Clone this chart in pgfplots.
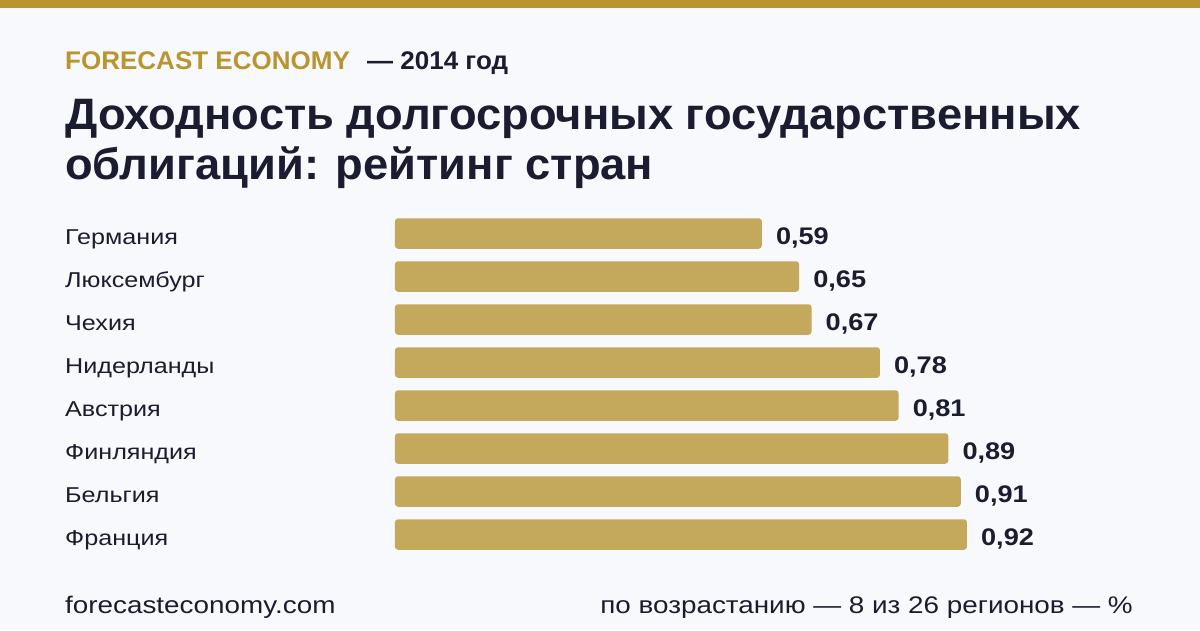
\documentclass[border=0pt]{standalone}
\usepackage{fontspec}
\setmainfont{Liberation Sans}
\newfontfamily\titlefont[FakeStretch=1.03]{Liberation Sans}
\newfontfamily\headfont[FakeStretch=1.02]{Liberation Sans}
\newfontfamily\labelfont[FakeStretch=1.17]{Liberation Sans}
\newfontfamily\valuefont[FakeStretch=1.13]{Liberation Sans}
\newfontfamily\footfont[FakeStretch=1.16]{Liberation Sans}
\usepackage{pgfplots}
\pgfplotsset{compat=1.18}
\definecolor{bgcol}{HTML}{F8F9FD}
\definecolor{goldcol}{HTML}{B8952F}
\definecolor{barcol}{HTML}{C4A85C}
\definecolor{darkcol}{HTML}{1C1C30}
\newcommand{\fs}[1]{\fontsize{#1}{#1}\selectfont}
\begin{document}
\begin{tikzpicture}[x=1pt,y=1pt]
\fill[bgcol] (0,0) rectangle (1200,630);
\fill[goldcol] (0,622) rectangle (1200,630);
\node[anchor=base west,inner sep=0,text=goldcol,font=\headfont\bfseries\fs{25.5}] at (65,560) {FORECAST ECONOMY};
\node[anchor=base west,inner sep=0,text=darkcol,font=\headfont\bfseries\fs{25.5}] at (367,560) {— 2014 год};
\node[anchor=base west,inner sep=0,text=darkcol,font=\titlefont\bfseries\fs{44}] at (65,500) {Доходность долгосрочных государственных};
\node[anchor=base west,inner sep=0,text=darkcol,font=\titlefont\bfseries\fs{44}] at (65,450) {облигаций: рейтинг стран};
\node[anchor=base west,inner sep=0,text=darkcol,font=\footfont\fs{24}] at (65,17) {forecasteconomy.com};
\node[anchor=base east,inner sep=0,text=darkcol,font=\footfont\fs{24}] at (1133,17) {по возрастанию — 8 из 26 регионов — \%};
\begin{axis}[
  at={(395pt,74pt)}, anchor=south west,
  scale only axis, width=621.7pt, height=344pt,
  xmin=0, xmax=1, ymin=-0.5, ymax=7.5, y dir=reverse,
  xbar, bar width=30.5pt, bar shift=0pt,
  axis line style={draw=none}, major tick length=0pt,
  xtick=\empty, ytick={0,...,7},
  yticklabels={Германия,Люксембург,Чехия,Нидерланды,Австрия,Финляндия,Бельгия,Франция},
  yticklabel style={anchor=base west, inner sep=0pt, xshift=-330pt, yshift=-10.5pt, font=\labelfont\fs{21.5}, text=darkcol},
  clip=false,
  nodes near coords,
  /pgf/number format/.cd, use comma, fixed, fixed zerofill, precision=2, assume math mode=true,
  /pgfplots/.cd,
  nodes near coords style={anchor=base west, inner sep=0pt, xshift=14pt, yshift=-11pt, font=\valuefont\bfseries\fs{24}, text=darkcol},
]
\addplot[fill=barcol, draw=none, rounded corners=3pt] coordinates {
(0.59,0) (0.65,1) (0.67,2) (0.78,3) (0.81,4) (0.89,5) (0.91,6) (0.92,7)};
\end{axis}
\end{tikzpicture}
\end{document}
